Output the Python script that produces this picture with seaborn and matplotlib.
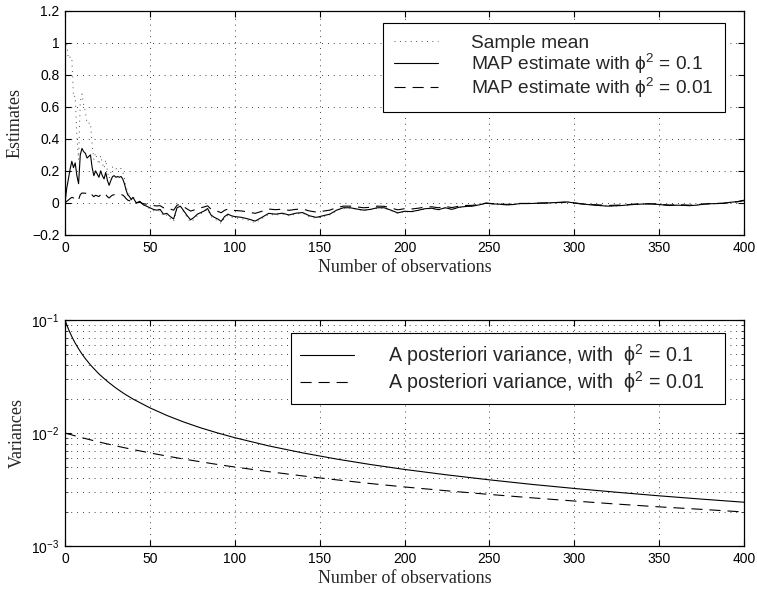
import numpy as np
import pandas as pd
import matplotlib
matplotlib.use("Agg")
import matplotlib.pyplot as plt
import seaborn as sns
from matplotlib.ticker import FixedLocator, FixedFormatter, LogLocator, NullFormatter, LogFormatterSciNotation

# ---------------- data ----------------
n_obs = list(range(0, 41)) + list(range(42, 101, 2)) + list(range(104, 401, 4))

sample_mean = [np.nan,
    0.99, 0.90, 0.91, 0.91, 0.66, 0.667, 0.413, 0.27, 0.633, 0.68,
    0.611, 0.568, 0.495, 0.497, 0.50, 0.358, 0.27, 0.311, 0.275, 0.24,
    0.295, 0.247, 0.215, 0.269, 0.196, 0.152, 0.192, 0.224, 0.229, 0.213,
    0.218, 0.21, 0.215, 0.194, 0.154, 0.102, 0.064, 0.051, 0.025, 0.044,
    0.0, 0.012, -0.012, -0.024, -0.036, -0.048, -0.053, -0.047, -0.082, -0.076,
    -0.099, -0.116, -0.035, -0.023, -0.057, -0.091, -0.119, -0.102, -0.079, -0.068,
    -0.056, -0.039, -0.084, -0.100, -0.111, -0.128, -0.094, -0.077, -0.088, -0.094,
    -0.099, -0.109, -0.123, -0.098, -0.070, -0.076, -0.069, -0.081, -0.069, -0.064,
    -0.086, -0.096, -0.085, -0.074, -0.048, -0.032, -0.032, -0.040, -0.048, -0.042,
    -0.032, -0.032, -0.047, -0.065, -0.055, -0.057, -0.048, -0.038, -0.035, -0.044,
    -0.031, -0.042, -0.028, -0.023, -0.021, -0.012, -0.002, -0.006, -0.008, -0.012,
    -0.010, -0.004, -0.004, -0.003, -0.001, 0.0, 0.002, 0.004, 0.006, 0.0,
    -0.006, -0.010, -0.014, -0.018, -0.021, -0.019, -0.016, -0.012, -0.009, -0.007,
    -0.006, -0.008, -0.012, -0.016, -0.014, -0.015, -0.017, -0.014, -0.008, -0.005,
    -0.004, -0.002, 0.004, 0.008, 0.017]

map_01 = [0.0,
    0.09, 0.15, 0.21, 0.26, 0.22, 0.25, 0.17, 0.12, 0.30, 0.34,
    0.32, 0.31, 0.28, 0.29, 0.30, 0.22, 0.17, 0.20, 0.18, 0.16,
    0.20, 0.17, 0.15, 0.19, 0.14, 0.11, 0.14, 0.165, 0.17, 0.16,
    0.165, 0.16, 0.165, 0.15, 0.12, 0.08, 0.05, 0.04, 0.02, 0.035,
    0.0, 0.01, -0.01, -0.02, -0.03, -0.04, -0.045, -0.04, -0.07, -0.065,
    -0.085, -0.10, -0.03, -0.02, -0.05, -0.08, -0.105, -0.09, -0.07, -0.06,
    -0.05, -0.035, -0.075, -0.09, -0.10, -0.115, -0.085, -0.07, -0.08, -0.085,
    -0.09, -0.10, -0.113, -0.09, -0.065, -0.07, -0.064, -0.075, -0.064, -0.06,
    -0.08, -0.09, -0.08, -0.07, -0.045, -0.03, -0.03, -0.038, -0.045, -0.04,
    -0.03, -0.03, -0.045, -0.062, -0.052, -0.054, -0.046, -0.036, -0.033, -0.042,
    -0.03, -0.04, -0.027, -0.022, -0.02, -0.012, -0.002, -0.006, -0.008, -0.012,
    -0.01, -0.004, -0.004, -0.003, -0.001, 0.0, 0.002, 0.004, 0.006, 0.0,
    -0.006, -0.01, -0.014, -0.017, -0.02, -0.018, -0.016, -0.012, -0.009, -0.007,
    -0.006, -0.008, -0.012, -0.016, -0.014, -0.015, -0.017, -0.014, -0.008, -0.005,
    -0.004, -0.002, 0.004, 0.008, 0.017]

map_001 = [0.0,
    0.010, 0.018, 0.027, 0.035, 0.031, 0.038, 0.027, 0.020, 0.052, 0.062,
    0.061, 0.061, 0.057, 0.061, 0.065, 0.049, 0.039, 0.048, 0.044, 0.040,
    0.051, 0.045, 0.040, 0.052, 0.039, 0.031, 0.041, 0.049, 0.051, 0.049,
    0.052, 0.051, 0.053, 0.049, 0.040, 0.027, 0.017, 0.014, 0.007, 0.013,
    0.0, 0.004, -0.004, -0.008, -0.012, -0.016, -0.019, -0.017, -0.030, -0.028,
    -0.038, -0.045, -0.014, -0.009, -0.024, -0.038, -0.051, -0.044, -0.035, -0.030,
    -0.025, -0.018, -0.039, -0.047, -0.053, -0.061, -0.046, -0.038, -0.044, -0.047,
    -0.050, -0.057, -0.065, -0.052, -0.038, -0.042, -0.039, -0.046, -0.040, -0.038,
    -0.050, -0.057, -0.051, -0.045, -0.029, -0.020, -0.020, -0.025, -0.030, -0.027,
    -0.020, -0.021, -0.031, -0.043, -0.036, -0.038, -0.033, -0.026, -0.024, -0.030,
    -0.022, -0.029, -0.020, -0.016, -0.015, -0.009, -0.001, -0.004, -0.006, -0.009,
    -0.008, -0.003, -0.003, -0.002, -0.001, 0.0, 0.002, 0.003, 0.005, 0.0,
    -0.005, -0.008, -0.011, -0.013, -0.016, -0.014, -0.013, -0.010, -0.007, -0.006,
    -0.005, -0.006, -0.010, -0.013, -0.011, -0.012, -0.014, -0.011, -0.007, -0.004,
    -0.003, -0.002, 0.003, 0.007, 0.014]

n_var = [0, 1, 2, 3, 4, 5, 6, 8, 10, 12, 15, 20, 25, 30, 35, 40, 50, 60, 70, 80, 90,
         100, 120, 140, 160, 180, 200, 225, 250, 275, 300, 325, 350, 375, 400]
var_01 = [0.1, 0.0909, 0.0833, 0.0769, 0.0714, 0.0667, 0.0625, 0.0556, 0.05, 0.0455,
          0.04, 0.0333, 0.0286, 0.025, 0.0222, 0.02, 0.0167, 0.0143, 0.0125, 0.0111,
          0.01, 0.00909, 0.00769, 0.00667, 0.00588, 0.00526, 0.00476, 0.00426,
          0.00385, 0.00351, 0.00323, 0.00299, 0.00278, 0.0026, 0.00244]
var_001 = [0.01, 0.0099, 0.0098, 0.00971, 0.00962, 0.00952, 0.00943, 0.00926, 0.00909,
           0.00893, 0.0087, 0.00833, 0.008, 0.00769, 0.00741, 0.00714, 0.00667,
           0.00625, 0.00588, 0.00556, 0.00526, 0.005, 0.00455, 0.00417, 0.00385,
           0.00357, 0.00333, 0.00308, 0.00286, 0.00267, 0.0025, 0.00235, 0.00222,
           0.00211, 0.002]

top_yticks = [-0.2, 0, 0.2, 0.4, 0.6, 0.8, 1, 1.2]
top_yticklabels = ["\u22120.2", "0", "0.2", "0.4", "0.6", "0.8", "1", "1.2"]
xticks = [0, 50, 100, 150, 200, 250, 300, 350, 400]

labels_top = ["Sample mean",
              "MAP estimate with \u03d5$^2$ = 0.1",
              "MAP estimate with \u03d5$^2$ = 0.01"]
labels_bot = ["A posteriori variance, with  \u03d5$^2$ = 0.1",
              "A posteriori variance, with  \u03d5$^2$ = 0.01"]

# ---------------- style ----------------
sns.set_style("ticks")
plt.rcParams["font.family"] = ["Liberation Sans", "DejaVu Sans"]
plt.rcParams["mathtext.fontset"] = "custom"
plt.rcParams["mathtext.rm"] = "Liberation Sans"
plt.rcParams["mathtext.it"] = "Liberation Sans:italic"
plt.rcParams["mathtext.default"] = "regular"
plt.rcParams["lines.scale_dashes"] = False
plt.rcParams["axes.unicode_minus"] = True

DOT = (0, (0.7, 3.2))
DASH = (0, (8.0, 5.0))
GRID = (0, (0.6, 3.6))
serif = ["Liberation Serif", "DejaVu Serif"]

df = pd.DataFrame({"n": n_obs, "mean": sample_mean, "m1": map_01, "m2": map_001})
dv = pd.DataFrame({"n": n_var, "v1": var_01, "v2": var_001})

fig = plt.figure(figsize=(7.57, 5.92), dpi=100)
ax1 = fig.add_axes([65 / 757, 1 - 235 / 592, 679 / 757, 224.4 / 592])
ax2 = fig.add_axes([65 / 757, 1 - 546 / 592, 679 / 757, 226 / 592])

# top panel
sns.lineplot(data=df, x="n", y="mean", ax=ax1, color="0.3", linewidth=0.7,
             linestyle=DOT, label=labels_top[0], estimator=None, sort=False)
sns.lineplot(data=df, x="n", y="m1", ax=ax1, color="black", linewidth=0.8,
             linestyle="-", label=labels_top[1], estimator=None, sort=False)
sns.lineplot(data=df, x="n", y="m2", ax=ax1, color="black", linewidth=0.8,
             linestyle=DASH, label=labels_top[2], estimator=None, sort=False)

ax1.set_xlim(0, 400)
ax1.set_ylim(-0.2, 1.2)
ax1.xaxis.set_major_locator(FixedLocator(xticks))
ax1.yaxis.set_major_locator(FixedLocator(top_yticks))
ax1.yaxis.set_major_formatter(FixedFormatter(top_yticklabels))
ax1.grid(True, which="major", color="black", linestyle=GRID, linewidth=0.6)
ax1.set_xlabel("Number of observations", fontfamily=serif, fontsize=13, labelpad=3)
ax1.set_ylabel("Estimates", fontfamily=serif, fontsize=13, labelpad=6)

leg1 = ax1.legend(loc="upper right", bbox_to_anchor=(0.972, 0.945), fontsize=13.8,
                  frameon=True, fancybox=False, framealpha=1, edgecolor="black",
                  handlelength=2.3, handletextpad=1.7, labelspacing=0.0,
                  borderpad=0.6, borderaxespad=0)
leg1.get_frame().set_linewidth(0.8)

# bottom panel
sns.lineplot(data=dv, x="n", y="v1", ax=ax2, color="black", linewidth=0.8,
             linestyle="-", label=labels_bot[0], estimator=None, sort=False)
sns.lineplot(data=dv, x="n", y="v2", ax=ax2, color="black", linewidth=0.8,
             linestyle=DASH, label=labels_bot[1], estimator=None, sort=False)
ax2.set_yscale("log")
ax2.set_xlim(0, 400)
ax2.set_ylim(1e-3, 1e-1)
ax2.xaxis.set_major_locator(FixedLocator(xticks))
ax2.yaxis.set_major_locator(LogLocator(base=10, numticks=10))
ax2.yaxis.set_major_formatter(LogFormatterSciNotation())
ax2.yaxis.set_minor_locator(LogLocator(base=10, subs=np.arange(2, 10), numticks=20))
ax2.yaxis.set_minor_formatter(NullFormatter())
ax2.grid(True, which="both", axis="y", color="black", linestyle=GRID, linewidth=0.6)
ax2.grid(True, which="major", axis="x", color="black", linestyle=GRID, linewidth=0.6)
ax2.set_xlabel("Number of observations", fontfamily=serif, fontsize=13, labelpad=3)
ax2.set_ylabel("Variances", fontfamily=serif, fontsize=13, labelpad=4)

leg2 = ax2.legend(loc="upper right", bbox_to_anchor=(0.972, 0.942), fontsize=14.1,
                  frameon=True, fancybox=False, framealpha=1, edgecolor="black",
                  handlelength=2.8, handletextpad=1.7, labelspacing=0.05,
                  borderpad=0.45, borderaxespad=0)
leg2.get_frame().set_linewidth(0.8)
# widen right padding inside the lower legend, as in the reference
for t in leg2.get_texts():
    t.set_text(t.get_text() + "   ")

for ax in (ax1, ax2):
    ax.set_axisbelow(True)
    for s in ax.spines.values():
        s.set_visible(True)
        s.set_linewidth(0.9)
        s.set_color("black")
    ax.tick_params(which="major", direction="in", top=True, right=True,
                   length=4, width=0.8, labelsize=10, colors="black", pad=4)
    ax.tick_params(which="minor", direction="in", top=True, right=True,
                   length=2.5, width=0.6)

fig.savefig("out.png", dpi=100)
